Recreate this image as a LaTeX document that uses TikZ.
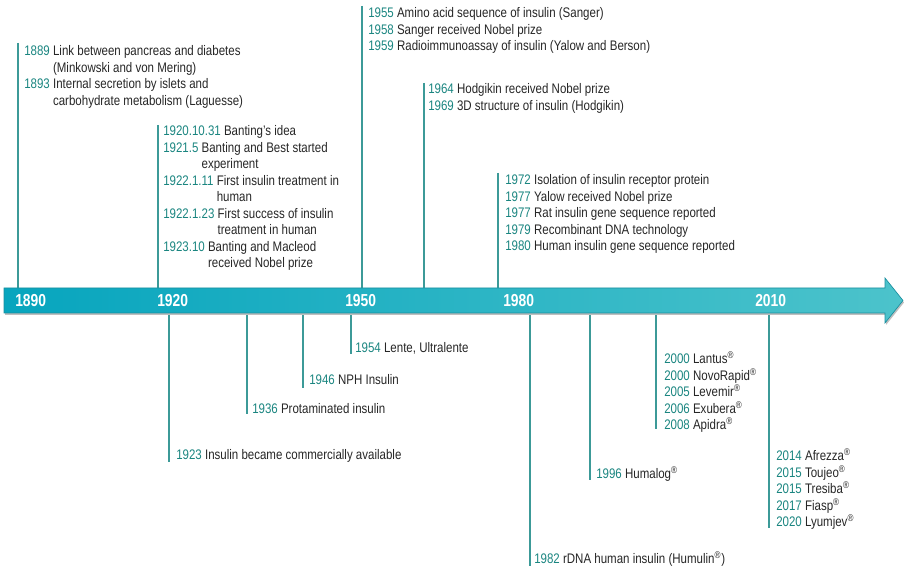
\documentclass[tikz,border=0pt]{standalone}
\usepackage{fontspec}
\setmainfont[FakeStretch=0.83]{Liberation Sans}
\newfontfamily\barfont[FakeStretch=0.8]{Liberation Sans}
\usepackage{tikz}
\usepackage{color}

\definecolor{yearteal}{HTML}{1A8580}
\definecolor{stemteal}{HTML}{3C9A98}
\definecolor{barleft}{HTML}{07A5BE}
\definecolor{barright}{HTML}{4CC3CB}
\definecolor{baredge}{HTML}{1A8E9E}

\newcommand\yr[1]{\textcolor{yearteal}{#1}}
\newcommand\regd{\textsuperscript{\textregistered}}
\newcommand\evlist[1]{\begin{tabular}[t]{@{}l@{}}#1\end{tabular}}

\begin{document}
\begin{tikzpicture}[x=0.75pt,y=-0.75pt,
    stem/.style={draw=stemteal,line width=1.1pt},
    entry/.style={anchor=base west,inner sep=0pt,text=black!85,font=\fontsize{10.4}{12.4}\selectfont},
    yearlbl/.style={anchor=west,inner sep=0pt,text=white,font=\barfont\bfseries\fontsize{13}{14}\selectfont}]

    \useasboundingbox (0,0) rectangle (904,570);

    \coordinate (bartop) at (0,288);
    \coordinate (barbot) at (0,313);

    \coordinate (s1889) at (18,43);
    \coordinate (s1920) at (158,125);
    \coordinate (s1955) at (362,6);
    \coordinate (s1964) at (424,83);
    \coordinate (s1972) at (498,173);
    \draw[stem] (s1889) -- (s1889 |- bartop);
    \draw[stem] (s1920) -- (s1920 |- bartop);
    \draw[stem] (s1955) -- (s1955 |- bartop);
    \draw[stem] (s1964) -- (s1964 |- bartop);
    \draw[stem] (s1972) -- (s1972 |- bartop);

    \coordinate (s1923) at (169,462);
    \coordinate (s1936) at (247,414);
    \coordinate (s1946) at (303,388);
    \coordinate (s1954) at (351,354);
    \coordinate (s1982) at (530,566);
    \coordinate (s1996) at (590,480);
    \coordinate (s2000) at (656,429);
    \coordinate (s2014) at (769,528);
    \draw[stem] (s1923 |- barbot) -- (s1923);
    \draw[stem] (s1936 |- barbot) -- (s1936);
    \draw[stem] (s1946 |- barbot) -- (s1946);
    \draw[stem] (s1954 |- barbot) -- (s1954);
    \draw[stem] (s1982 |- barbot) -- (s1982);
    \draw[stem] (s1996 |- barbot) -- (s1996);
    \draw[stem] (s2000 |- barbot) -- (s2000);
    \draw[stem] (s2014 |- barbot) -- (s2014);

    \fill[black!25] (5,290) -- (886,290) -- (886,280) -- (904,302.5) -- (886,325) -- (886,315) -- (5,315) -- cycle;
    \draw[baredge,line width=0.5pt,left color=barleft,right color=barright]
        (4,288) -- (885,288) -- (885,278) -- (903,300.5) -- (885,323) -- (885,313) -- (4,313) -- cycle;

    \node[yearlbl] (y1890) at (15,300.5) {1890};
    \node[yearlbl] (y1920) at (157,300.5) {1920};
    \node[yearlbl] (y1950) at (345,300.5) {1950};
    \node[yearlbl] (y1980) at (503,300.5) {1980};
    \node[yearlbl] (y2010) at (755,300.5) {2010};

    \node[entry] (ev1889) at (24,55.5) {\evlist{
        \yr{1889} Link between pancreas and diabetes\\
        \hphantom{\yr{1889}} (Minkowski and von Mering)\\
        \yr{1893} Internal secretion by islets and\\
        \hphantom{\yr{1893}} carbohydrate metabolism (Laguesse)}};
    \node[entry] (ev1920) at (163,135.5) {\evlist{
        \yr{1920.10.31} Banting's idea\\
        \yr{1921.5} Banting and Best started\\
        \hphantom{\yr{1921.5}} experiment\\
        \yr{1922.1.11} First insulin treatment in\\
        \hphantom{\yr{1922.1.11}} human\\
        \yr{1922.1.23} First success of insulin\\
        \hphantom{\yr{1922.1.23}} treatment in human\\
        \yr{1923.10} Banting and Macleod\\
        \hphantom{\yr{1923.10}} received Nobel prize}};
    \node[entry] (ev1955) at (368,17.5) {\evlist{
        \yr{1955} Amino acid sequence of insulin (Sanger)\\
        \yr{1958} Sanger received Nobel prize\\
        \yr{1959} Radioimmunoassay of insulin (Yalow and Berson)}};
    \node[entry] (ev1964) at (428,93.5) {\evlist{
        \yr{1964} Hodgikin received Nobel prize\\
        \yr{1969} 3D structure of insulin (Hodgikin)}};
    \node[entry] (ev1972) at (505,184.5) {\evlist{
        \yr{1972} Isolation of insulin receptor protein\\
        \yr{1977} Yalow received Nobel prize\\
        \yr{1977} Rat insulin gene sequence reported\\
        \yr{1979} Recombinant DNA technology\\
        \yr{1980} Human insulin gene sequence reported}};

    \node[entry] (ev1954) at (355,352.5) {\yr{1954} Lente, Ultralente};
    \node[entry] (ev1946) at (309,384.5) {\yr{1946} NPH Insulin};
    \node[entry] (ev1936) at (252,413.5) {\yr{1936} Protaminated insulin};
    \node[entry] (ev1923) at (176,459.5) {\yr{1923} Insulin became commercially available};
    \node[entry] (ev1982) at (534,563.5) {\yr{1982} rDNA human insulin (Humulin\regd)};
    \node[entry] (ev1996) at (596,478.5) {\yr{1996} Humalog\regd};
    \node[entry] (ev2000) at (664,363.5) {\evlist{
        \yr{2000} Lantus\regd\\
        \yr{2000} NovoRapid\regd\\
        \yr{2005} Levemir\regd\\
        \yr{2006} Exubera\regd\\
        \yr{2008} Apidra\regd}};
    \node[entry] (ev2014) at (776,460.5) {\evlist{
        \yr{2014} Afrezza\regd\\
        \yr{2015} Toujeo\regd\\
        \yr{2015} Tresiba\regd\\
        \yr{2017} Fiasp\regd\\
        \yr{2020} Lyumjev\regd}};
\end{tikzpicture}
\end{document}
